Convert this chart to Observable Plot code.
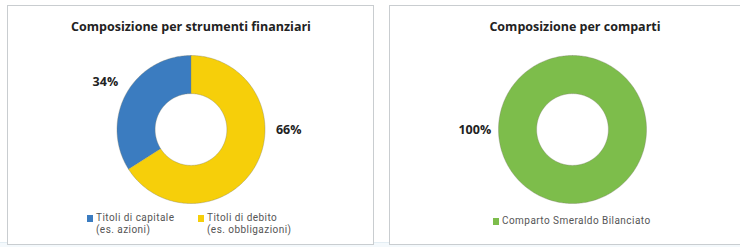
<!DOCTYPE html>
<html>
<head>
<meta charset="utf-8">
<script src="https://cdn.jsdelivr.net/npm/d3@7"></script>
<script src="https://cdn.jsdelivr.net/npm/@observablehq/plot@0.6"></script>
<style>
  html, body { margin: 0; padding: 0; background: #ffffff; }
  #wrap { position: relative; width: 740px; height: 247px; overflow: hidden; font-family: "Open Sans", "Noto Sans", sans-serif; }
  .panel { position: absolute; box-sizing: border-box; border: 1.5px solid #c9cdd0; background: #fff; }
  .title { position: absolute; font-weight: 700; font-size: 12.5px; color: #222; text-align: center; white-space: nowrap; transform: translateX(-50%); }
  .plot { position: absolute; top: 0; }
  .legend { position: absolute; font-family: Roboto, "Liberation Sans", sans-serif; font-size: 10px; letter-spacing: 0.45px; color: #555; line-height: 12px; white-space: nowrap; }
  .legend .sw { position: absolute; width: 6px; height: 7px; left: 0; top: 3px; }
  .legend .lt { position: absolute; left: 9px; top: 0; }
  .baseline { position: absolute; left: 0; top: 242px; width: 740px; height: 5px; background: #f4f9fc; border-top: 1px solid #e4eef4; }
</style>
</head>
<body>
<div id="wrap">
  <div class="baseline"></div>
  <div class="panel" style="left:7px; top:5px; width:367px; height:240px;"></div>
  <div class="panel" style="left:389px; top:5px; width:360px; height:240px;"></div>
</div>
<script>
// ---- Data ----
const titles = ["Composizione per strumenti finanziari", "Composizione per comparti"];
const leftCategories = ["Titoli di capitale (es. azioni)", "Titoli di debito (es. obbligazioni)"];
const leftLegendLines = [["Titoli di capitale", "(es. azioni)"], ["Titoli di debito", "(es. obbligazioni)"]];
const leftValues = [34, 66];
const leftColors = ["#3b7cc0", "#f6cf0a"];
const rightCategories = ["Comparto Smeraldo Bilanciato"];
const rightLegendLines = [["Comparto Smeraldo Bilanciato"]];
const rightValues = [100];
const rightColors = ["#7dbd4b"];

// ---- Layout config (not data) ----
const INNER = 0.485;     // inner radius relative to outer
const LABEL_R = 1.32;    // label distance relative to outer
const wrap = document.getElementById("wrap");

// angles measured from 12 o'clock, running counter-clockwise
const pt = (t, r) => [-r * Math.sin(t), r * Math.cos(t)];

function ringPoints(a0, a1, r) {
  const n = Math.max(2, Math.ceil(Math.abs(a1 - a0) / (Math.PI / 180)));
  const pts = [];
  for (let i = 0; i <= n; i++) pts.push(pt(a0 + (a1 - a0) * i / n, r));
  return pts;
}

function donut({categories, values, colors, left, svgWidth, cx, cy, R, labelAngles}) {
  const total = d3.sum(values);
  const polys = [];
  const outlines = [];
  const labels = [];
  let acc = 0;
  values.forEach((v, i) => {
    const a0 = acc / total * 2 * Math.PI;
    acc += v;
    const a1 = acc / total * 2 * Math.PI;
    const pts = ringPoints(a0, a1, 1).concat(ringPoints(a1, a0, INNER));
    pts.forEach((p) => polys.push({cat: categories[i], x: p[0], y: p[1]}));
    const la = labelAngles[i] !== undefined ? labelAngles[i] : (a0 + a1) / 2;
    const lp = pt(la, LABEL_R);
    labels.push({x: lp[0], y: lp[1], text: Math.round(v / total * 100) + "%"});
    if (values.length > 1) {
      outlines.push({id: "b" + i, pts: [pt(a0, INNER), pt(a0, 1)]});
    }
  });
  outlines.push({id: "outer", pts: ringPoints(0, 2 * Math.PI, 1)});
  outlines.push({id: "inner", pts: ringPoints(0, 2 * Math.PI, INNER)});
  const outlineRows = outlines.flatMap(o => o.pts.map(p => ({id: o.id, x: p[0], y: p[1]})));

  const chart = Plot.plot({
    width: svgWidth,
    height: 247,
    margin: 0,
    x: {domain: [-1, 1], range: [cx - R, cx + R], axis: null},
    y: {domain: [-1, 1], range: [cy + R, cy - R], axis: null},
    color: {domain: categories, range: colors},
    style: {background: "transparent", overflow: "visible"},
    marks: [
      Plot.line(polys, {x: "x", y: "y", z: "cat", fill: "cat", stroke: "none", curve: "linear-closed"}),
      Plot.line(outlineRows, {x: "x", y: "y", z: "id", stroke: "#7a7a6a", strokeOpacity: 0.45, strokeWidth: 0.8}),
      Plot.text(labels, {x: "x", y: "y", text: "text", fontSize: 12.5, fontWeight: 700, fill: "#222", fontFamily: "Open Sans, sans-serif"})
    ]
  });
  chart.classList.add("plot");
  chart.style.left = left + "px";
  wrap.appendChild(chart);
}

donut({categories: leftCategories, values: leftValues, colors: leftColors, left: 0, svgWidth: 380,
       cx: 190.5, cy: 129, R: 74, labelAngles: [undefined, 3 * Math.PI / 2]});
donut({categories: rightCategories, values: rightValues, colors: rightColors, left: 380, svgWidth: 360,
       cx: 192, cy: 129, R: 74, labelAngles: [Math.PI / 2]});

function addTitle(text, x, y) {
  const d = document.createElement("div");
  d.className = "title";
  d.textContent = text;
  d.style.left = x + "px";
  d.style.top = y + "px";
  wrap.appendChild(d);
}
addTitle(titles[0], 191, 18);
addTitle(titles[1], 575, 18);

function addLegend(lines, color, x, y) {
  const d = document.createElement("div");
  d.className = "legend";
  d.style.left = x + "px";
  d.style.top = y + "px";
  const sw = document.createElement("span");
  sw.className = "sw";
  sw.style.background = color;
  d.appendChild(sw);
  lines.forEach((l, i) => {
    const t = document.createElement("span");
    t.className = "lt";
    t.style.top = (i * 12) + "px";
    t.textContent = l;
    d.appendChild(t);
  });
  wrap.appendChild(d);
}
addLegend(leftLegendLines[0], leftColors[0], 87, 212);
addLegend(leftLegendLines[1], leftColors[1], 198, 212);
addLegend(rightLegendLines[0], rightColors[0], 493, 215);
</script>
</body>
</html>
